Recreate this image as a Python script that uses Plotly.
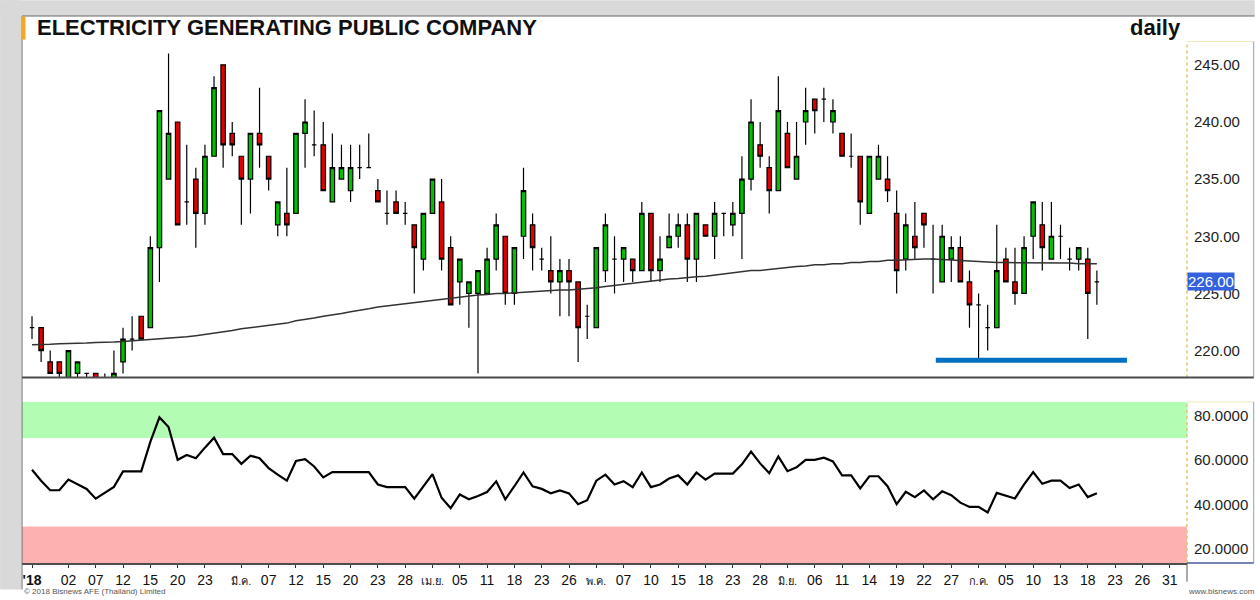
import plotly.graph_objects as go

# EGCO daily candles, 118 trading days (end of Jan 2018 -> 19 Jul 2018)
open_ = [222, 222, 219, 219, 217, 218, 218, 218, 217, 217,
         219, 221, 223, 222, 229, 235, 240, 233, 235, 232,
         237, 245, 239, 237, 235, 239, 237, 231, 232, 232,
         239, 238, 238, 233, 235, 234, 236, 236, 234, 232,
         233, 232, 231, 228, 232, 233, 229, 226, 225, 225,
         225, 228, 230, 225, 230, 231, 228, 227, 226, 227,
         226, 223, 222, 227, 228, 228, 228, 227, 232, 227,
         229, 230, 231, 228, 231, 230, 232, 231, 232, 235,
         238, 236, 234, 239, 235, 240, 242, 242, 240, 239,
         237, 237, 232, 235, 235, 232, 228, 230, 232, 228,
         226, 228, 229, 226, 224, 222, 222, 228, 226, 225,
         230, 231, 228, 230, 228, 228, 228, 226]
high = [223, 222, 220, 219, 220, 219, 218, 218, 218, 220,
        222, 223, 223, 230, 241, 246, 240, 238, 236, 238,
        244, 245, 240, 237, 239, 243, 237, 233, 236, 239,
        242, 241, 240, 239, 238, 238, 238, 239, 235, 234,
        234, 233, 231, 232, 235, 235, 230, 228, 226, 227,
        229, 232, 230, 229, 236, 232, 229, 230, 228, 228,
        226, 224, 229, 232, 230, 229, 228, 233, 232, 230,
        232, 232, 232, 232, 231, 233, 232, 233, 237, 242,
        240, 237, 244, 240, 240, 243, 242, 243, 242, 239,
        239, 237, 237, 238, 237, 234, 232, 233, 232, 231,
        231, 230, 230, 227, 225, 224, 231, 229, 229, 230,
        233, 233, 233, 231, 229, 229, 229, 227]
low = [221, 219, 218, 216, 216, 216, 217, 216, 216, 216,
       218, 220, 221, 222, 226, 235, 231, 231, 229, 231,
       237, 236, 237, 231, 232, 236, 234, 230, 230, 232,
       236, 237, 234, 233, 235, 233, 235, 236, 233, 231,
       232, 231, 225, 227, 232, 227, 224, 224, 222, 218,
       225, 227, 224, 224, 228, 227, 227, 225, 223, 223,
       219, 221, 222, 226, 225, 226, 226, 227, 226, 226,
       229, 229, 226, 226, 230, 228, 230, 230, 228, 234,
       236, 232, 234, 236, 235, 238, 239, 240, 239, 237,
       236, 231, 232, 235, 233, 225, 227, 228, 229, 225,
       226, 226, 226, 222, 219, 220, 222, 226, 224, 225,
       228, 227, 228, 228, 227, 227, 221, 224]
close = [222, 220, 218, 218, 220, 219, 218, 217, 217, 218,
         221, 221, 221, 229, 241, 239, 231, 233, 232, 237,
         243, 238, 238, 235, 239, 238, 235, 233, 231, 239,
         240, 238, 234, 236, 236, 236, 236, 236, 233, 232,
         232, 232, 229, 232, 235, 228, 224, 228, 226, 227,
         228, 231, 225, 229, 234, 229, 228, 226, 227, 226,
         222, 223, 229, 231, 228, 229, 227, 232, 227, 228,
         230, 231, 228, 232, 230, 232, 232, 232, 235, 240,
         237, 234, 241, 236, 237, 241, 241, 242, 241, 237,
         237, 233, 237, 237, 234, 227, 231, 229, 231, 228,
         230, 229, 226, 224, 224, 222, 227, 226, 225, 229,
         233, 229, 230, 230, 228, 229, 225, 226]

# long moving average
ma = [220.5, 220.5, 220.55, 220.6, 220.6, 220.65, 220.65, 220.7, 220.7, 220.75,
      220.8, 220.85, 220.9, 220.95, 221.0, 221.05, 221.1, 221.2, 221.3, 221.4,
      221.5, 221.6, 221.75, 221.9, 222.0, 222.1, 222.2, 222.3, 222.4, 222.6,
      222.7, 222.85, 223.0, 223.1, 223.25, 223.4, 223.5, 223.65, 223.8, 223.9,
      224.0, 224.1, 224.2, 224.3, 224.4, 224.5, 224.6, 224.7, 224.8, 224.85,
      224.9, 225.0, 225.0, 225.05, 225.1, 225.2, 225.2, 225.25, 225.3, 225.3,
      225.35, 225.4, 225.5, 225.6, 225.7, 225.8, 225.9, 226.0, 226.1, 226.2,
      226.25, 226.3, 226.4, 226.45, 226.5, 226.6, 226.7, 226.8, 226.9, 227.0,
      227.0, 227.1, 227.2, 227.3, 227.35, 227.4, 227.5, 227.5, 227.6, 227.6,
      227.7, 227.7, 227.8, 227.8, 227.9, 227.9, 227.95, 228.0, 228.0, 228.0,
      227.95, 227.9, 227.85, 227.8, 227.75, 227.7, 227.7, 227.7, 227.7, 227.7,
      227.7, 227.7, 227.7, 227.65, 227.65, 227.6, 227.6, 227.6]

# RSI panel
rsi = [55.6, 50.7, 46.4, 46.4, 51.2, 49.0, 47.0, 42.6, 45.2, 47.9,
       54.9, 54.9, 54.9, 68.2, 79.3, 74.9, 60.1, 62.3, 60.8, 65.6,
       70.1, 62.7, 62.7, 58.3, 62.0, 60.8, 56.4, 53.4, 50.7, 59.6,
       60.4, 57.1, 52.2, 54.6, 54.6, 54.6, 54.6, 54.6, 49.0, 47.8,
       47.8, 47.8, 42.6, 48.0, 53.7, 43.0, 38.3, 44.5, 42.3, 43.8,
       45.6, 50.4, 42.3, 48.2, 54.4, 48.2, 47.0, 45.0, 46.3, 45.0,
       40.1, 41.9, 50.7, 53.4, 49.0, 50.5, 47.8, 54.4, 47.8, 49.0,
       51.7, 53.1, 49.0, 54.4, 51.2, 53.9, 53.9, 53.9, 58.1, 63.8,
       58.5, 54.1, 61.6, 55.0, 56.7, 60.1, 60.1, 61.1, 59.4, 53.1,
       53.1, 47.2, 52.7, 52.7, 48.2, 40.1, 45.7, 43.3, 46.3, 42.3,
       45.9, 44.2, 40.8, 38.9, 38.9, 36.4, 45.2, 43.8, 42.7, 49.0,
       54.6, 49.3, 50.7, 50.7, 47.4, 49.0, 43.3, 45.0]

# x-axis labels (trading-day index -> label)
tick_idx = [0, 4, 7, 10, 13, 16, 19, 23, 26, 29, 32, 35, 38, 41, 44, 47, 50, 53, 56, 59,
            62, 65, 68, 71, 74, 77, 80, 83, 86, 89, 92, 95, 98, 101, 104, 107, 110, 113,
            116, 119, 122, 125]
tick_lbl = ["'18", "02", "07", "12", "15", "20", "23", "มี.ค.", "07", "12", "15", "20", "23",
            "28", "เม.ย.", "05", "11", "18", "23", "26", "พ.ค.", "07", "10", "15", "18", "23",
            "28", "มิ.ย.", "06", "11", "14", "19", "22", "27", "ก.ค.", "05", "10", "13", "18",
            "23", "26", "31"]
price_ticks = [220, 225, 230, 235, 240, 245]
rsi_ticks = [20, 40, 60, 80]

# support line drawn by the analyst
support_level = 219.15
support_from = 99.3
support_to = 120.3

x = list(range(len(close)))

FONT = "Arial, Liberation Sans, sans-serif"


def fmt_tick(t):
    if t == "'18":
        return "<b>'18</b>"
    if not t.isdigit():
        return '<span style="font-size:11px">' + t + "</span>"
    return t


fig = go.Figure()

fig.add_trace(go.Candlestick(
    x=x, open=open_, high=high, low=low, close=close,
    increasing=dict(fillcolor="#00c000", line=dict(color="black", width=1.2)),
    decreasing=dict(fillcolor="#e00000", line=dict(color="black", width=1.2)),
    whiskerwidth=0, xaxis="x", yaxis="y", hoverinfo="skip"))

fig.add_trace(go.Scatter(x=x, y=ma, mode="lines",
                         line=dict(color="#333333", width=1.5),
                         xaxis="x", yaxis="y", hoverinfo="skip"))

fig.add_trace(go.Scatter(x=x, y=rsi, mode="lines",
                         line=dict(color="black", width=2.2),
                         xaxis="x2", yaxis="y2", hoverinfo="skip"))

L, R, T, B = 22, 68, 16, 27
W, H = 1260, 600
pw, ph = W - L - R, H - T - B


def px(v):  # pixel x -> paper
    return (v - L) / pw


def py(v):  # pixel y -> paper
    return (H - B - v) / ph


price_dom = [py(384), py(42)]
rsi_dom = [0, py(409)]
xr = [-1.1, 126.9]

shapes = [
    # grey window frame
    dict(type="rect", xref="paper", yref="paper", x0=px(0), x1=px(W), y0=py(16), y1=py(0),
         fillcolor="#d9d9d9", line=dict(width=0), layer="below"),
    dict(type="rect", xref="paper", yref="paper", x0=px(0), x1=px(21), y0=py(H), y1=py(0),
         fillcolor="#d9d9d9", line=dict(width=0), layer="below"),
    dict(type="line", xref="paper", yref="paper", x0=px(22), x1=px(W), y0=py(16), y1=py(16),
         line=dict(color="#666666", width=1)),
    dict(type="line", xref="paper", yref="paper", x0=px(22), x1=px(22), y0=py(H), y1=py(16),
         line=dict(color="#666666", width=1)),
    dict(type="rect", xref="paper", yref="paper", x0=px(22), x1=px(25.5), y0=py(40), y1=py(16.5),
         fillcolor="#f5a623", line=dict(width=0)),
    # RSI zones
    dict(type="rect", xref="paper", yref="y2", x0=0, x1=1, y0=70, y1=86.2,
         fillcolor="#b3fcb3", line=dict(width=0), layer="below"),
    dict(type="rect", xref="paper", yref="y2", x0=0, x1=1, y0=13.6, y1=30,
         fillcolor="#fdb1b1", line=dict(width=0), layer="below"),
    # axis boxes on the right
    dict(type="line", xref="paper", yref="paper", x0=1, x1=1, y0=price_dom[0], y1=price_dom[1],
         line=dict(color="#e2c56a", width=1.5, dash="dot")),
    dict(type="line", xref="paper", yref="paper", x0=1, x1=px(1259), y0=price_dom[1], y1=price_dom[1],
         line=dict(color="#f3e6b8", width=1)),
    dict(type="line", xref="paper", yref="paper", x0=px(1259), x1=px(1259), y0=price_dom[0], y1=price_dom[1],
         line=dict(color="#8c9bd6", width=1)),
    dict(type="line", xref="paper", yref="paper", x0=1, x1=1, y0=rsi_dom[0], y1=rsi_dom[1],
         line=dict(color="#e2c56a", width=1.5, dash="dot")),
    dict(type="line", xref="paper", yref="paper", x0=1, x1=px(1259), y0=rsi_dom[1], y1=rsi_dom[1],
         line=dict(color="#f3e6b8", width=1)),
    dict(type="line", xref="paper", yref="paper", x0=px(1259), x1=px(1259), y0=rsi_dom[0], y1=rsi_dom[1],
         line=dict(color="#8c9bd6", width=1)),
    dict(type="line", xref="paper", yref="paper", x0=1, x1=px(1259), y0=0, y1=0,
         line=dict(color="#4a5a9a", width=1.5)),
    dict(type="line", xref="paper", yref="paper", x0=0, x1=px(1259), y0=price_dom[0], y1=price_dom[0],
         line=dict(color="#4d4d4d", width=2)),
    dict(type="line", xref="paper", yref="paper", x0=1, x1=1, y0=py(592), y1=0,
         line=dict(color="#555555", width=1)),
    # support line
    dict(type="line", xref="x", yref="y", x0=support_from, x1=support_to,
         y0=support_level, y1=support_level, line=dict(color="#0070c0", width=5)),
]

annotations = [
    dict(xref="paper", yref="paper", x=px(35), y=py(28), xanchor="left", yanchor="middle",
         text="<b>ELECTRICITY GENERATING PUBLIC COMPANY</b>", showarrow=False,
         font=dict(family=FONT, size=22, color="#111111")),
    dict(xref="paper", yref="paper", x=px(1188), y=py(28), xanchor="right", yanchor="middle",
         text="<b>daily</b>", showarrow=False,
         font=dict(family=FONT, size=22, color="#111111")),
    dict(xref="paper", yref="y", x=1.0, y=close[-1], xanchor="left", yanchor="middle",
         text=f"{close[-1]:.2f}", showarrow=False, bgcolor="#3462dc", borderpad=0,
         font=dict(family=FONT, size=15, color="white")),
    dict(xref="paper", yref="paper", x=px(22), y=py(602), xanchor="left", yanchor="middle",
         text="© 2018 Bisnews AFE (Thailand) Limited", showarrow=False,
         font=dict(family=FONT, size=8, color="#555555")),
    dict(xref="paper", yref="paper", x=px(1262), y=py(602), xanchor="right", yanchor="middle",
         text="www.bisnews.com", showarrow=False,
         font=dict(family=FONT, size=8, color="#555555")),
]

fig.update_layout(
    width=W, height=H,
    margin=dict(l=L, r=R, t=T, b=B),
    paper_bgcolor="white", plot_bgcolor="white",
    showlegend=False, hovermode=False,
    font=dict(family=FONT, color="#222222"),
    xaxis=dict(domain=[0, 1], anchor="y", range=xr, showticklabels=False,
               showgrid=False, zeroline=False, rangeslider=dict(visible=False)),
    yaxis=dict(domain=price_dom, anchor="x", side="right", range=[217.65, 247.04],
               tickvals=price_ticks, ticktext=[f"{v:.2f}" for v in price_ticks],
               showgrid=False, zeroline=False, ticks="", ticklabelstandoff=6,
               tickfont=dict(family=FONT, size=15, color="#222222")),
    xaxis2=dict(domain=[0, 1], anchor="y2", matches="x", range=xr,
                tickvals=tick_idx, ticktext=[fmt_tick(t) for t in tick_lbl],
                tickangle=0, ticks="outside", ticklen=3, tickcolor="#333333",
                showline=True, linecolor="#4d4d4d", linewidth=1.5,
                showgrid=False, zeroline=False,
                tickfont=dict(family=FONT, size=14, color="#111111")),
    yaxis2=dict(domain=rsi_dom, anchor="x2", side="right", range=[13.6, 86.2],
                tickvals=rsi_ticks, ticktext=[f"{v:.4f}" for v in rsi_ticks],
                showgrid=False, zeroline=False, ticks="", ticklabelstandoff=6,
                tickfont=dict(family=FONT, size=15, color="#222222")),
    shapes=shapes,
    annotations=annotations,
)

# drop the browser's default body margin so the figure sits at (0, 0)
fig.write_html("out.html", config={"displayModeBar": False},
               post_script="document.body.style.margin='0px';")
